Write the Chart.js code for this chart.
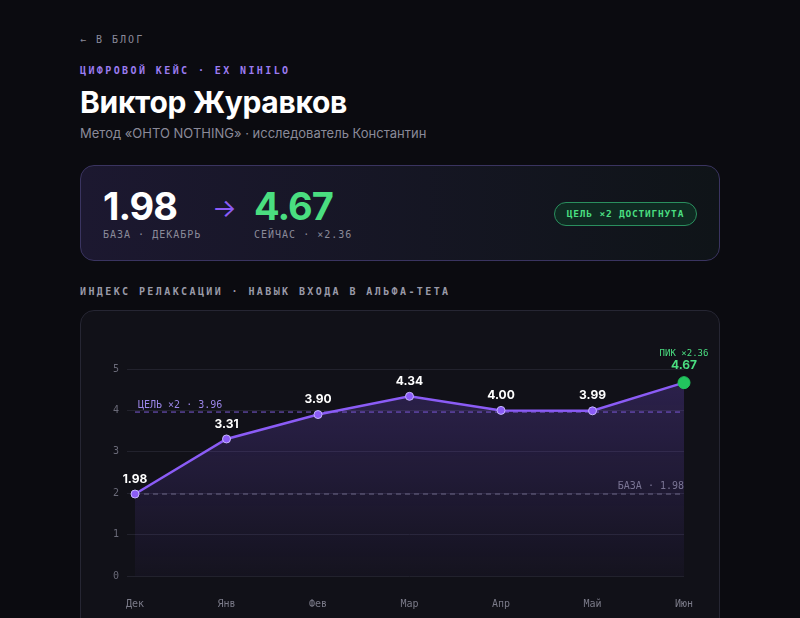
<!DOCTYPE html>
<html><head><meta charset="utf-8">
<script src="https://cdn.jsdelivr.net/npm/chart.js@4"></script>
<style>
body{margin:0;background:#0b0b10;width:800px;height:618px;overflow:hidden;font-family:Inter,"Noto Sans",sans-serif;position:relative;color:#fff}
.mono{font-family:"DejaVu Sans Mono","Liberation Mono",monospace}
.abs{position:absolute}
#back{left:80px;top:34px;font-size:10px;letter-spacing:2px;color:#8a8a99}
#kicker{left:80px;top:65px;font-size:10px;letter-spacing:2.4px;color:#9b7cf0;font-weight:bold}
#title{left:80px;top:84px;font-size:30px;font-weight:700;letter-spacing:-0.3px}
#sub{left:80px;top:125px;font-size:13px;color:#8a8a99}
#hero{left:80px;top:165px;width:638px;height:94px;border:1px solid #3a3460;border-radius:14px;background:linear-gradient(90deg,#1c1830,#0f1418)}
.big{font-size:38px;font-weight:700;letter-spacing:-1px}
.lbl{font-size:10px;color:#8a8a99;letter-spacing:1px}
#pill{left:554px;top:202px;width:141px;height:22px;border:1px solid #2a8f5e;border-radius:12px;background:#0f2a22;color:#4ade80;font-size:9.5px;font-weight:bold;letter-spacing:0.8px;text-align:center;line-height:22px}
#sec{left:80px;top:286px;font-size:10px;letter-spacing:2.4px;color:#9a9aa8;font-weight:bold}
#card{left:80px;top:310px;width:638px;height:320px;border:1px solid #262633;border-radius:14px;background:#111118}
#wrap{left:80px;top:310px;width:640px;height:308px}
</style></head><body>
<div class="abs mono" id="back">← В БЛОГ</div>
<div class="abs mono" id="kicker">ЦИФРОВОЙ КЕЙС · EX NIHILO</div>
<div class="abs" id="title">Виктор Журавков</div>
<div class="abs" id="sub">Метод «OHTO NOTHING» · исследователь Константин</div>
<div class="abs" id="hero"></div>
<div class="abs big" style="left:103px;top:183px">1.98</div>
<div class="abs mono lbl" style="left:103px;top:229px">БАЗА · ДЕКАБРЬ</div>
<div class="abs" style="left:212px;top:192px;font-size:26px;color:#8b5cf6">→</div>
<div class="abs big" style="left:254px;top:183px;color:#4ade80">4.67</div>
<div class="abs mono lbl" style="left:254px;top:229px">СЕЙЧАС · ×2.36</div>
<div class="abs mono" id="pill">ЦЕЛЬ ×2 ДОСТИГНУТА</div>
<div class="abs mono" id="sec">ИНДЕКС РЕЛАКСАЦИИ · НАВЫК ВХОДА В АЛЬФА-ТЕТА</div>
<div class="abs" id="card"></div>
<div class="abs" id="wrap"><canvas id="c"></canvas></div>
<script>
const months=["Дек","Янв","Фев","Мар","Апр","Май","Июн"];
const values=[1.98,3.31,3.90,4.34,4.00,3.99,4.67];
const baseLine=1.98, goalLine=3.96;
const yTicks=[0,1,2,3,4,5];
const mono='"DejaVu Sans Mono", monospace';
const overlay={id:'ov',
 beforeDatasetsDraw(ch){const {ctx,chartArea:a,scales:{y}}=ch;
  ctx.save();ctx.setLineDash([5,4]);ctx.lineWidth=1;
  let yg=y.getPixelForValue(goalLine);ctx.strokeStyle='#7c5cd6';ctx.beginPath();ctx.moveTo(a.left,yg);ctx.lineTo(a.right,yg);ctx.stroke();
  let yb=y.getPixelForValue(baseLine);ctx.strokeStyle='#6a6a78';ctx.beginPath();ctx.moveTo(a.left,yb);ctx.lineTo(a.right,yb);ctx.stroke();
  ctx.setLineDash([]);ctx.font='10px '+mono;ctx.textBaseline='bottom';
  ctx.fillStyle='#9b85e8';ctx.textAlign='left';ctx.fillText('ЦЕЛЬ ×2 · '+goalLine.toFixed(2),a.left+3,yg-2);
  ctx.fillStyle='#7a7a88';ctx.textAlign='right';ctx.fillText('БАЗА · '+baseLine.toFixed(2),a.right,yb-3);
  ctx.restore();},
 afterDatasetsDraw(ch){const {ctx,chartArea:a}=ch;const m=ch.getDatasetMeta(0);
  ctx.save();ctx.textAlign='center';ctx.textBaseline='bottom';
  m.data.forEach((p,i)=>{const last=i===values.length-1;
   ctx.font='bold 12px Inter, sans-serif';ctx.fillStyle=last?'#4ade80':'#fff';
   ctx.fillText(values[i].toFixed(2),p.x,p.y-(last?11:9));
   if(last){ctx.font='9px '+mono;ctx.fillStyle='#4ade80';ctx.fillText('ПИК ×2.36',p.x,p.y-25);}
  });ctx.restore();}};
new Chart(document.getElementById('c'),{type:'line',
 data:{labels:months,datasets:[{data:values,borderColor:'#8b5cf6',borderWidth:2.5,tension:0,
  pointRadius:values.map((v,i)=>i===values.length-1?6:4),
  pointBackgroundColor:values.map((v,i)=>i===values.length-1?'#22c55e':'#8b5cf6'),
  pointBorderColor:values.map((v,i)=>i===values.length-1?'#22c55e':'#c4b5fd'),pointBorderWidth:1,
  fill:true,backgroundColor:(c)=>{const a=c.chart.chartArea;if(!a)return 'rgba(139,92,246,0.1)';
   const g=c.chart.ctx.createLinearGradient(0,a.top,0,a.bottom);g.addColorStop(0,'rgba(120,80,220,0.28)');g.addColorStop(1,'rgba(120,80,220,0.04)');return g;}}]},
 options:{responsive:true,maintainAspectRatio:false,animation:false,
  layout:{padding:{top:59,right:36,left:0,bottom:0}},
  plugins:{legend:{display:false},tooltip:{enabled:false}},
  scales:{x:{grid:{display:false},border:{display:false},ticks:{color:'#7a7a88',font:{family:mono,size:10},padding:14},afterFit(s){s.height=42;}},
   y:{min:0,max:5,afterBuildTicks(s){s.ticks=yTicks.map(v=>({value:v}));},grid:{color:'#22222d'},border:{display:false},
    ticks:{color:'#6a6a78',font:{family:mono,size:10},padding:8},afterFit(s){s.width=55;}}}},
 plugins:[overlay]});
</script></body></html>
